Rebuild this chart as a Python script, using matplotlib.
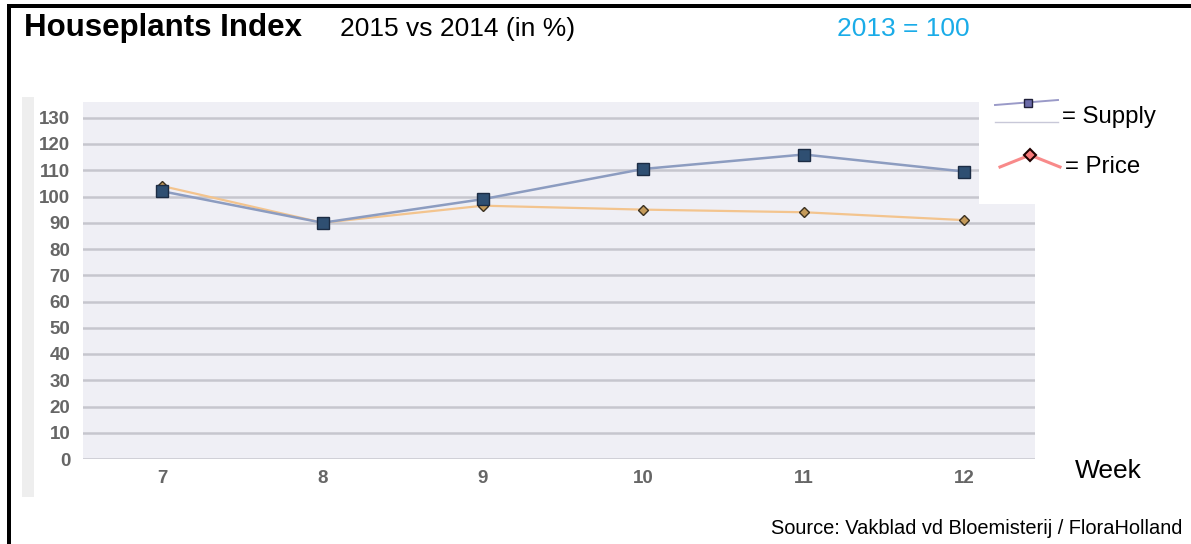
import matplotlib.pyplot as plt
from matplotlib.lines import Line2D
from matplotlib.patches import Rectangle

plt.rcParams['font.family'] = ['Liberation Sans', 'DejaVu Sans']

# weekly index values
weeks = [7, 8, 9, 10, 11, 12]
supply = [102, 90, 99, 110.5, 116, 109.5]
price = [104, 90, 96.5, 95, 94, 91]
yticks = list(range(0, 131, 10))

W, H = 1191, 544
fig = plt.figure(figsize=(W / 100, H / 100), dpi=100)


def px(x, y):
    # pixel position (from top left) -> figure fraction
    return x / W, 1 - y / H


# axes box placed to match the reference
ax = fig.add_axes([83 / W, 1 - 459 / H, (1035 - 83) / W, (459 - 102) / H])
ax.set_facecolor('#efeff5')
ax.set_xlim(6.507, 12.44)
ax.set_ylim(0, 136)
ax.set_yticks(yticks)
ax.set_xticks(weeks)
for s in ax.spines.values():
    s.set_visible(False)
ax.tick_params(length=0, labelsize=13.5, labelcolor='#666666')
for lab in ax.get_xticklabels() + ax.get_yticklabels():
    lab.set_fontweight('bold')
ax.tick_params(axis='y', pad=9)
ax.tick_params(axis='x', pad=8)
ax.grid(axis='y', color='#c6c6ce', linewidth=1.8)
ax.set_axisbelow(True)

ax.plot(weeks, price, color='#f3c48e', linewidth=1.6, marker='D', markersize=5,
        markerfacecolor='#c49a5a', markeredgecolor='#3a3020', markeredgewidth=1, zorder=3)
ax.plot(weeks, supply, color='#8c9cc0', linewidth=1.8, marker='s', markersize=8,
        markerfacecolor='#2f4f72', markeredgecolor='#1c2c44', markeredgewidth=1, zorder=4)

# faint edge strip of the pasted chart
fig.patches.append(Rectangle(px(22, 497), 12 / W, 400 / H, transform=fig.transFigure,
                             facecolor='#eeeeee', edgecolor='none', zorder=1))

# white legend box covering the top right corner
fig.patches.append(Rectangle(px(979, 204), (W - 979) / W, (204 - 85) / H,
                             transform=fig.transFigure, facecolor='white',
                             edgecolor='none', zorder=5))


def fline(xs, ys, **kw):
    pts = [px(x, y) for x, y in zip(xs, ys)]
    fig.add_artist(Line2D([p[0] for p in pts], [p[1] for p in pts],
                          transform=fig.transFigure, zorder=6, **kw))


fline([995, 1058], [105, 100], color='#9a9ac8', linewidth=1.4)
fline([1028], [103], marker='s', markersize=6, markerfacecolor='#6a6aa8',
      markeredgecolor='#20203a', linestyle='none')
fline([995, 1058], [122, 122], color='#c8c8d8', linewidth=1)
fline([1000, 1030, 1060], [167, 155, 167], color='#f88a8a', linewidth=2.2)
fline([1030], [155], marker='D', markersize=6, markerfacecolor='#f87a7a',
      markeredgecolor='#200000', markeredgewidth=1.5, linestyle='none')
fig.text(*px(1062, 117), '= Supply', fontsize=17.3, va='center', zorder=7)
fig.text(*px(1065, 167), '= Price', fontsize=17.3, va='center', zorder=7)

# titles and notes
fig.text(*px(24, 28), 'Houseplants Index', fontsize=22.5, fontweight='bold', va='center')
fig.text(*px(340, 29), '2015 vs 2014 (in %)', fontsize=19, va='center')
fig.text(*px(837, 29), '2013 = 100', fontsize=19, va='center', color='#1aace8')
fig.text(*px(1075, 471), 'Week', fontsize=19, va='center')
fig.text(*px(1182, 528), 'Source: Vakblad vd Bloemisterij / FloraHolland', fontsize=14.4,
         va='center', ha='right')

# black frame on top and left
fig.patches.append(Rectangle(px(7, 8), (W - 7) / W, 4 / H, transform=fig.transFigure,
                             facecolor='black', edgecolor='none', zorder=8))
fig.patches.append(Rectangle(px(7, H), 4 / W, (H - 4) / H, transform=fig.transFigure,
                             facecolor='black', edgecolor='none', zorder=8))

fig.savefig('out.png', dpi=100)
